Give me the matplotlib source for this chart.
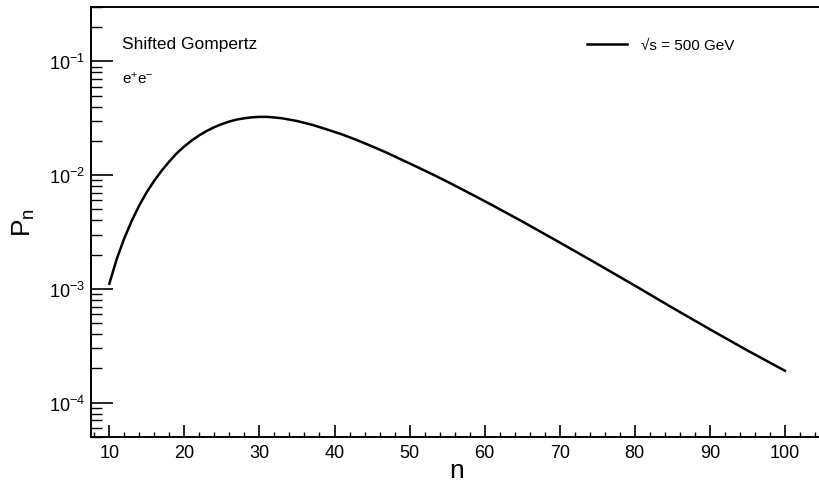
import matplotlib
matplotlib.use('Agg')
import matplotlib.pyplot as plt
from matplotlib.ticker import MultipleLocator, LogLocator, NullFormatter

plt.rcParams['font.family'] = ['Liberation Sans', 'DejaVu Sans']
plt.rcParams['mathtext.fontset'] = 'custom'
plt.rcParams['mathtext.rm'] = 'Liberation Sans'
plt.rcParams['mathtext.it'] = 'Liberation Sans:italic'

# values
n_vals = [10, 11, 12, 13, 14, 15, 16, 17, 18, 19, 20, 21, 22, 23, 24, 25, 26,
          27, 28, 29, 30, 31, 32, 33, 35, 37, 39, 41, 43, 45, 47, 49, 51, 53,
          55, 57, 59, 61, 63, 65, 70, 75, 80, 85, 90, 95, 100]
p_vals = [1.11e-3, 1.84e-3, 2.79e-3, 3.98e-3, 5.43e-3, 7.11e-3, 8.95e-3,
          1.10e-2, 1.32e-2, 1.56e-2, 1.79e-2, 2.02e-2, 2.24e-2, 2.45e-2,
          2.64e-2, 2.81e-2, 2.96e-2, 3.08e-2, 3.16e-2, 3.22e-2, 3.25e-2,
          3.25e-2, 3.21e-2, 3.16e-2, 2.99e-2, 2.77e-2, 2.52e-2, 2.28e-2,
          2.03e-2, 1.79e-2, 1.57e-2, 1.36e-2, 1.18e-2, 1.02e-2, 8.77e-3,
          7.50e-3, 6.40e-3, 5.45e-3, 4.62e-3, 3.92e-3, 2.56e-3, 1.66e-3,
          1.07e-3, 6.84e-4, 4.42e-4, 2.88e-4, 1.91e-4]
series_label = '\u221as = 500 GeV'
title_text = 'Shifted Gompertz'
beam_text = r'e$^{+}$e$^{-}$'

fig = plt.figure(figsize=(8.2, 4.89), dpi=100)
ax = fig.add_axes([0.1104, 0.1043, 0.8926, 0.8793])

ax.plot(n_vals, p_vals, color='black', lw=1.8, label=series_label)
ax.set_yscale('log')
ax.set_xlim(7.5, 105)
ax.set_ylim(5e-5, 0.3)

ax.xaxis.set_major_locator(MultipleLocator(10))
ax.xaxis.set_minor_locator(MultipleLocator(2))
ax.yaxis.set_major_locator(LogLocator(base=10, numticks=10))
ax.yaxis.set_minor_locator(LogLocator(base=10, subs=range(2, 10), numticks=20))
ax.yaxis.set_minor_formatter(NullFormatter())

ax.tick_params(axis='x', which='major', direction='in', length=8.4, width=1.2, labelsize=13, pad=5)
ax.tick_params(axis='x', which='minor', direction='in', length=3.8, width=1.0)
ax.tick_params(axis='y', which='major', direction='in', length=15.8, width=1.2, labelsize=13, pad=4)
ax.tick_params(axis='y', which='minor', direction='in', length=8, width=1.0)

for side in ['left', 'bottom', 'top']:
    ax.spines[side].set_linewidth(1.4)
ax.spines['right'].set_visible(False)

ax.text(0.5, -0.077, 'n', transform=ax.transAxes, ha='center', va='center', fontsize=19)
ax.text(-0.091, 0.502, r'P$_{\rm n}$', transform=ax.transAxes, ha='center', va='center',
        rotation=90, fontsize=19)

ax.text(0.043, 0.915, title_text, transform=ax.transAxes, ha='left', va='center', fontsize=12.5)
ax.text(0.043, 0.835, beam_text, transform=ax.transAxes, ha='left', va='center', fontsize=11)

ax.legend(loc='upper left', bbox_to_anchor=(0.66, 0.96), frameon=False, fontsize=11,
          handlelength=2.6, handletextpad=0.9)

fig.savefig('out.png', dpi=100)
